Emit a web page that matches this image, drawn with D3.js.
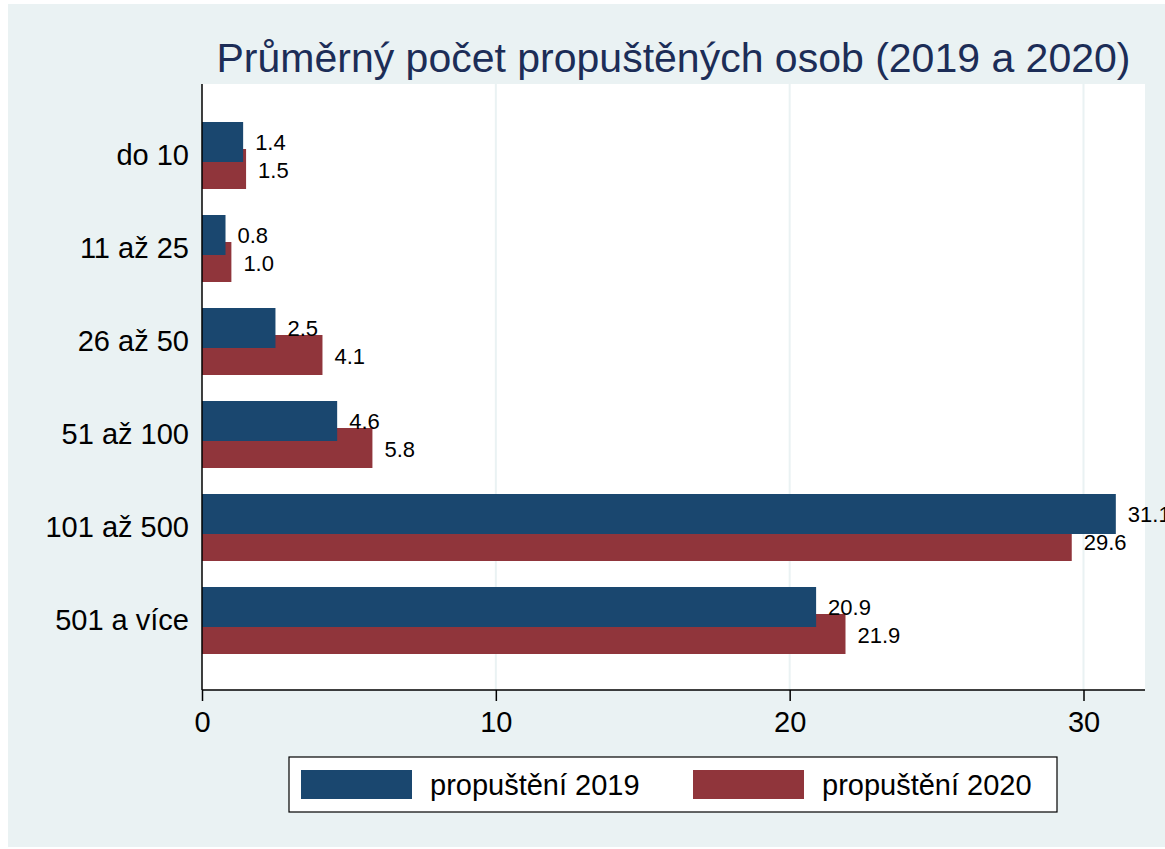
<!DOCTYPE html>
<meta charset='utf-8'>
<head>
    <title>Propuštění</title>
    <script src='https://cdn.jsdelivr.net/npm/d3@7/dist/d3.min.js'></script>
</head>

<style>
    body { margin: 0; background: #fff; }
    text { font-family: 'Liberation Sans', Arial, Helvetica, sans-serif; }
    .bar-2019 { fill: #1a476f; }
    .bar-2020 { fill: #90353b; }
    .grid line { stroke: #eaf2f3; stroke-width: 2px; }
</style>

<svg></svg>

<script>

    // data
    var categories = ['do 10', '11 až 25', '26 až 50', '51 až 100', '101 až 500', '501 a více'];
    var values2019 = [1.4, 0.8, 2.5, 4.6, 31.1, 20.9];
    var values2020 = [1.5, 1.0, 4.1, 5.8, 29.6, 21.9];
    var xTicks = [0, 10, 20, 30];
    var seriesNames = ['propuštění 2019', 'propuštění 2020'];
    var title = 'Průměrný počet propuštěných osob (2019 a 2020)';

    var vWidth = 1165;
    var vHeight = 849;
    var plot = {left: 202, right: 1145, top: 84, bottom: 690};

    var svg = d3.select('svg').attr('width', vWidth).attr('height', vHeight);

    // backgrounds
    svg.append('rect').attr('x', 8).attr('y', 4)
        .attr('width', vWidth - 8).attr('height', vHeight - 6)
        .attr('fill', '#eaf2f3');
    svg.append('rect').attr('x', plot.left).attr('y', plot.top)
        .attr('width', plot.right - plot.left).attr('height', plot.bottom - plot.top)
        .attr('fill', '#fff');

    // scales
    var x = d3.scaleLinear().domain([0, 30]).range([plot.left, 1083.5]);
    var y = d3.scaleBand().domain(categories).range([109, 667]).padding(0);

    // grid
    svg.append('g').attr('class', 'grid').selectAll('line')
        .data(xTicks.filter(function (d) { return d > 0; }))
        .enter().append('line')
        .attr('x1', function (d) { return x(d); })
        .attr('x2', function (d) { return x(d); })
        .attr('y1', plot.top).attr('y2', plot.bottom);

    var rows = categories.map(function (c, i) {
        return {cat: c, v19: values2019[i], v20: values2020[i]};
    });

    function mid(d) { return y(d.cat) + y.bandwidth() / 2; }

    // bars: 2020 first, 2019 on top
    svg.append('g').selectAll('rect').data(rows).enter().append('rect')
        .attr('class', 'bar-2020')
        .attr('x', x(0))
        .attr('y', function (d) { return mid(d) - 6.5; })
        .attr('width', function (d) { return x(d.v20) - x(0); })
        .attr('height', 40);

    svg.append('g').selectAll('rect').data(rows).enter().append('rect')
        .attr('class', 'bar-2019')
        .attr('x', x(0))
        .attr('y', function (d) { return mid(d) - 33.5; })
        .attr('width', function (d) { return x(d.v19) - x(0); })
        .attr('height', 40);

    // value labels
    var labels = svg.append('g').attr('font-size', 22).attr('fill', '#000');
    labels.selectAll('text.l19').data(rows).enter().append('text')
        .attr('class', 'l19')
        .attr('x', function (d) { return x(d.v19) + 12; })
        .attr('y', function (d) { return mid(d) - 5.5; })
        .text(function (d) { return d.v19.toFixed(1); });
    labels.selectAll('text.l20').data(rows).enter().append('text')
        .attr('class', 'l20')
        .attr('x', function (d) { return x(d.v20) + 12; })
        .attr('y', function (d) { return mid(d) + 22.5; })
        .text(function (d) { return d.v20.toFixed(1); });

    // y axis
    var yAxis = d3.axisLeft(y).tickSize(0).tickPadding(13);
    var gy = svg.append('g').attr('transform', 'translate(' + plot.left + ',0)').call(yAxis);
    gy.select('.domain').remove();
    gy.append('line').attr('x1', 0).attr('x2', 0).attr('y1', plot.top).attr('y2', plot.bottom)
        .attr('stroke', '#000').attr('stroke-width', 1.5);
    gy.selectAll('text').attr('font-size', 29).attr('fill', '#000')
        .attr('font-family', "'Liberation Sans', Arial, sans-serif");

    // x axis
    var xAxis = d3.axisBottom(x).tickValues(xTicks).tickSize(11).tickPadding(10)
        .tickFormat(d3.format('d'));
    var gx = svg.append('g').attr('transform', 'translate(0,' + plot.bottom + ')').call(xAxis);
    gx.select('.domain').remove();
    gx.append('line').attr('x1', plot.left).attr('x2', plot.right).attr('y1', 0).attr('y2', 0)
        .attr('stroke', '#000').attr('stroke-width', 1.5);
    gx.selectAll('.tick line').attr('stroke', '#000').attr('stroke-width', 1.5);
    gx.selectAll('text').attr('font-size', 29).attr('fill', '#000')
        .attr('font-family', "'Liberation Sans', Arial, sans-serif");

    // title
    svg.append('text')
        .attr('x', (plot.left + plot.right) / 2).attr('y', 72)
        .attr('text-anchor', 'middle')
        .attr('font-size', 41).attr('fill', '#1c2d57')
        .text(title);

    // legend
    var lg = svg.append('g');
    lg.append('rect').attr('x', 289).attr('y', 757).attr('width', 768).attr('height', 55)
        .attr('fill', '#fff').attr('stroke', '#000').attr('stroke-width', 1.2);
    var items = [
        {name: seriesNames[0], cls: 'bar-2019', x: 301},
        {name: seriesNames[1], cls: 'bar-2020', x: 693}
    ];
    items.forEach(function (it) {
        lg.append('rect').attr('class', it.cls).attr('x', it.x).attr('y', 770)
            .attr('width', 111).attr('height', 29);
        lg.append('text').attr('x', it.x + 129).attr('y', 795)
            .attr('font-size', 29).attr('fill', '#000').text(it.name);
    });

</script>
